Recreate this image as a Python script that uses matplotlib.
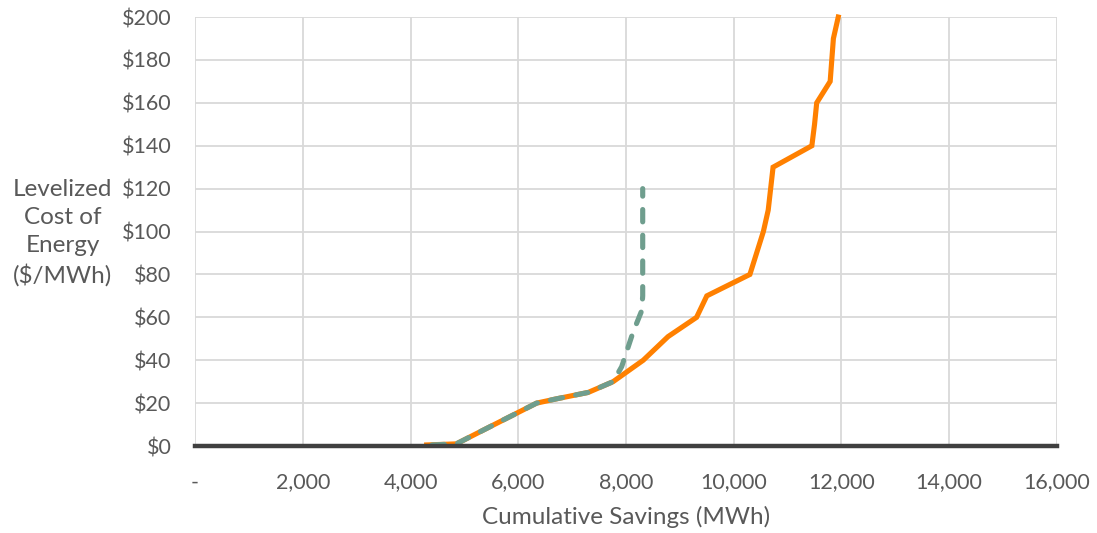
import matplotlib
matplotlib.use("Agg")
import matplotlib.pyplot as plt
from matplotlib.ticker import FuncFormatter

# Supply curve: cumulative savings (MWh) vs levelized cost ($/MWh)
all_savings = [4300, 4850, 5475, 6340, 6710, 7300, 7760, 8320, 8780, 9310,
               9500, 10300, 10550, 10640, 10730, 11450, 11500, 11540, 11790,
               11850, 11940]
all_cost = [0.5, 1, 9, 20, 22, 25, 30, 40, 51, 60,
            70, 80, 100, 110, 130, 140, 150, 160, 170,
            190, 200]

limited_savings = [4400, 4850, 5475, 6340, 6710, 7300, 7760, 7920, 8130,
                   8290, 8310, 8310]
limited_cost = [0.5, 1, 9, 20, 22, 25, 30, 37, 53, 63, 70, 120]

x_ticks = [0, 2000, 4000, 6000, 8000, 10000, 12000, 14000, 16000]
y_ticks = [0, 20, 40, 60, 80, 100, 120, 140, 160, 180, 200]

text_color = "#595959"
plt.rcParams["font.family"] = ["Lato", "DejaVu Sans"]

fig = plt.figure(figsize=(10.97, 5.33), dpi=100)
ax = fig.add_axes([0.1778, 0.1632, 0.7857, 0.8048])

ax.plot(all_savings, all_cost, color="#FF8000", lw=3.7,
        solid_joinstyle="miter", zorder=3, clip_on=False)
ax.plot(limited_savings, limited_cost, color="#6F9E8E", lw=3.7,
        dashes=(2.4, 2.6), dash_capstyle="round", zorder=4, clip_on=False)

ax.set_xlim(0, 16000)
ax.set_ylim(0, 200)
ax.set_xticks(x_ticks)
ax.set_yticks(y_ticks)
ax.xaxis.set_major_formatter(
    FuncFormatter(lambda v, p: "-" if v == 0 else f"{int(v):,}"))
ax.yaxis.set_major_formatter(FuncFormatter(lambda v, p: f"${int(v)}"))

ax.grid(True, color="#D9D9D9", lw=1.3, zorder=0)
ax.set_axisbelow(True)
for s in ["top", "right", "left"]:
    ax.spines[s].set_visible(False)
ax.spines["bottom"].set_color("#404040")
ax.spines["bottom"].set_linewidth(3.2)
ax.spines["bottom"].set_zorder(5)

ax.tick_params(axis="both", length=0, labelsize=15.5, colors=text_color)
ax.tick_params(axis="x", pad=19)
ax.tick_params(axis="y", pad=17)

ax.set_xlabel("Cumulative Savings (MWh)", fontsize=17.5, color=text_color,
              labelpad=10)
fig.text(0.057, 0.563, "Levelized\nCost of\nEnergy\n($/MWh)", ha="center",
         va="center", fontsize=17.5, color=text_color, linespacing=1.4)

fig.savefig("out.png", dpi=100)
